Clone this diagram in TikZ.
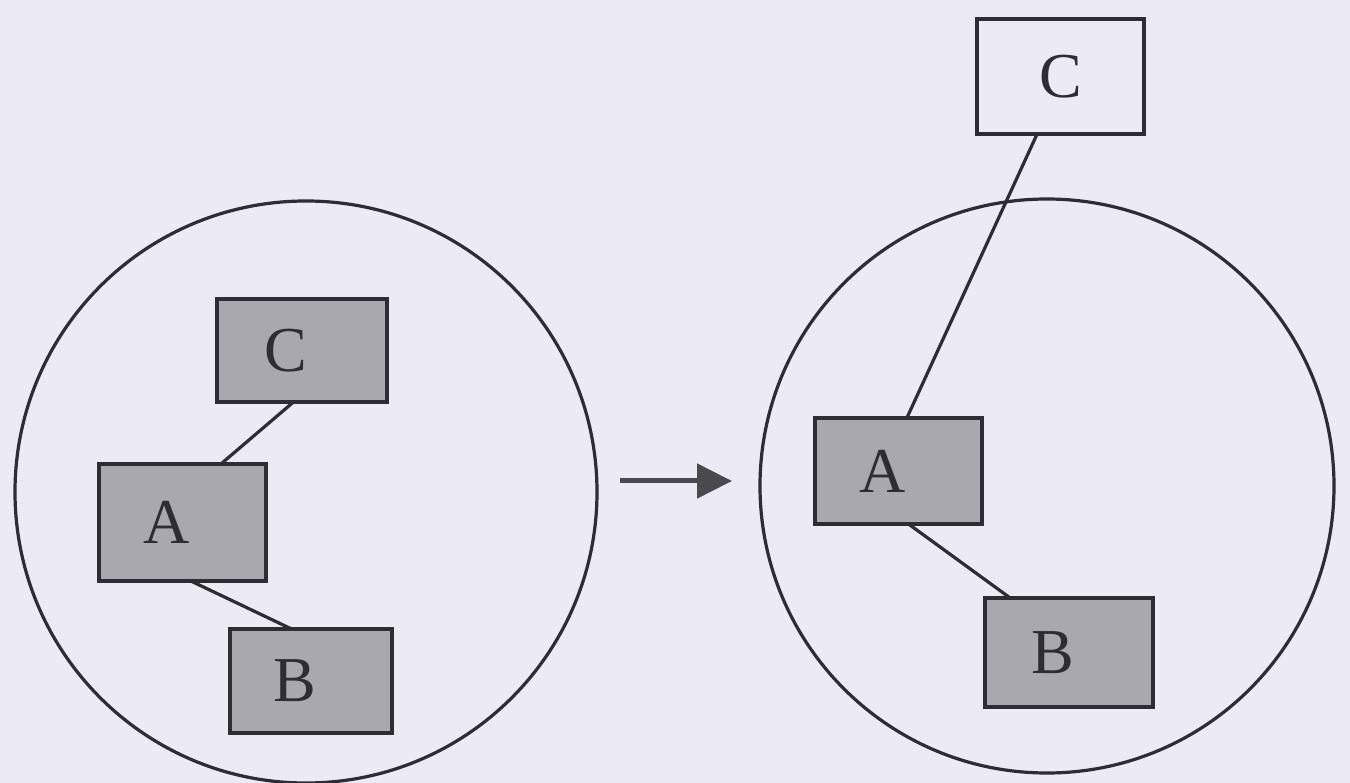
\documentclass[tikz,border=0pt]{standalone}
\usepackage{fontspec}
\setmainfont{Liberation Serif}
\usetikzlibrary{arrows.meta,calc}
\definecolor{paper}{HTML}{ECEAF2}
\definecolor{ink}{HTML}{2E2D33}
\definecolor{shade}{HTML}{A9A8AE}
\definecolor{arrowgray}{HTML}{4A494E}
% shift a box letter a little to the left of the box centre
\newcommand\lftletter[1]{\kern-32pt #1}
\begin{document}
\begin{tikzpicture}[x=1pt,y=-1pt,
  ring/.style={circle,draw=ink,line width=3.2pt,minimum size=#1,inner sep=0pt,outer sep=0pt},
  obj/.style={draw=ink,line width=4pt,fill=shade,inner sep=0pt,outer sep=0pt,
              font=\fontsize{64}{64}\selectfont,text=ink},
  link/.style={draw=ink,line width=3.2pt},
  moveto/.style={draw=arrowgray,line width=5pt,-{Triangle[length=35pt,width=34pt]}},
]
% paper
\fill[paper] (0,0) rectangle (1350,783);
\useasboundingbox (0,0) rectangle (1350,783);

% the two clusters
\node[ring=582pt] (lcirc) at (306,492) {};
\node[ring=574pt] (rcirc) at (1047,486) {};

% left cluster: C, A, B all inside
\node[obj,minimum width=170pt,minimum height=103pt] (lC) at (302,350.5) {\lftletter{C}};
\node[obj,minimum width=167pt,minimum height=117pt] (lA) at (182.5,522.5) {\lftletter{A}};
\node[obj,minimum width=162pt,minimum height=104pt] (lB) at (311,681) {\lftletter{B}};

\draw[link] ($(lC.south west)!0.45!(lC.south east)$) -- ($(lA.north west)!0.73!(lA.north east)$);
\draw[link] ($(lA.south west)!0.55!(lA.south east)$) -- ($(lB.north west)!0.38!(lB.north east)$);

% right cluster: C has moved outside
\node[obj,fill=paper,minimum width=167pt,minimum height=115pt] (rC) at (1060.5,76.5) {C};
\node[obj,minimum width=167pt,minimum height=106pt] (rA) at (898.5,471) {\lftletter{A}};
\node[obj,minimum width=168pt,minimum height=109pt] (rB) at (1069,652.5) {\lftletter{B}};

\draw[link] ($(rC.south west)!0.36!(rC.south east)$) -- ($(rA.north west)!0.55!(rA.north east)$);
\draw[link] ($(rA.south west)!0.56!(rA.south east)$) -- ($(rB.north west)!0.15!(rB.north east)$);

% transition arrow
\coordinate (arrowTail) at (620,481);
\coordinate (arrowTip) at (732,481);
\draw[moveto] (arrowTail) -- (arrowTip);
\end{tikzpicture}
\end{document}
